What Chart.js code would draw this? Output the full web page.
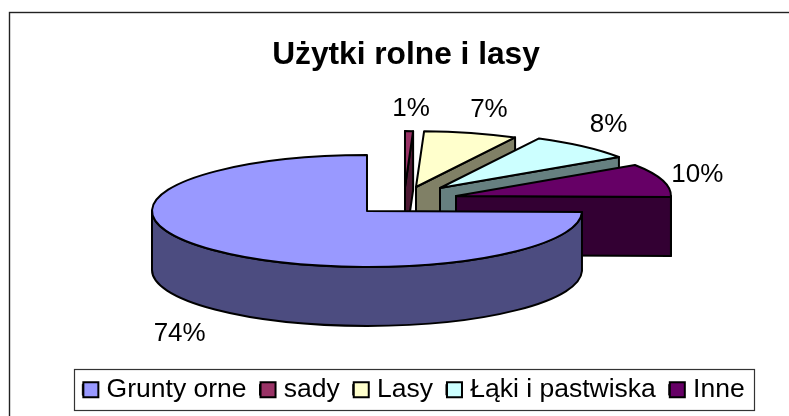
<!DOCTYPE html>
<html>
<head>
<meta charset="utf-8">
<title>Użytki rolne i lasy</title>
<script src="https://cdn.jsdelivr.net/npm/chart.js@4/dist/chart.umd.min.js"></script>
<style>
    html, body { margin: 0; padding: 0; background: #fff; }
    #wrap { position: relative; width: 789px; height: 416px; }
</style>
</head>
<body>
<div id="wrap"><canvas id="chart"></canvas></div>
<script>
const categories = ['Grunty orne', 'sady', 'Lasy', 'Łąki i pastwiska', 'Inne'];
const shares = [74.49, 0.6, 7, 8, 9.6];

const topColors = ['#9999FF', '#993366', '#FFFFCC', '#CCFFFF', '#660066'];
const sideColors = ['#4C4C80', '#4D1933', '#808066', '#668080', '#330033'];

// how far each slice is pulled out of the pie, in screen px
const explodeX = [0, 38, 49, 73, 89];
const explodeY = [0, -24, -24, -23, -15];
// label position relative to the outer rim point of the slice
const labelShiftX = [-34, 2, 18, 25, 35];
const labelShiftY = [25, -22, -23, -22, -5];

const PIE_X = 367;
const PIE_Y = 211;
const SQUASH = 0.26;
const DEPTH = 59;
const OUTLINE = 2;

function drawSlice(ctx, arc, i) {
    const cx = PIE_X + explodeX[i];
    const cy = PIE_Y + explodeY[i];
    const R = arc.outerRadius;
    const r = R * SQUASH;
    const a0 = arc.startAngle;
    const a1 = arc.endAngle;
    const rimX = a => cx + R * Math.cos(a);
    const rimY = a => cy + r * Math.sin(a);

    ctx.strokeStyle = '#000';
    ctx.lineWidth = OUTLINE;
    ctx.lineJoin = 'round';
    ctx.fillStyle = sideColors[i];

    // cut faces, only the ones turned to the viewer
    [[a0, Math.cos(a0) < 0], [a1, Math.cos(a1) > 0]].forEach(([a, visible]) => {
        if (!visible) return;
        ctx.beginPath();
        ctx.moveTo(cx, cy);
        ctx.lineTo(rimX(a), rimY(a));
        ctx.lineTo(rimX(a), rimY(a) + DEPTH);
        ctx.lineTo(cx, cy + DEPTH);
        ctx.closePath();
        ctx.fill();
        ctx.stroke();
    });

    // outer wall on the front half of the rim
    const turns = [-2, 0, 2].map(n => n * Math.PI);
    turns.forEach(t => {
        const from = Math.max(a0, t);
        const to = Math.min(a1, t + Math.PI);
        if (to <= from) return;
        ctx.beginPath();
        ctx.ellipse(cx, cy, R, r, 0, from, to);
        ctx.ellipse(cx, cy + DEPTH, R, r, 0, to, from, true);
        ctx.closePath();
        ctx.fill();
        ctx.stroke();
    });

    // top
    ctx.fillStyle = topColors[i];
    ctx.beginPath();
    ctx.moveTo(cx, cy);
    ctx.ellipse(cx, cy, R, r, 0, a0, a1);
    ctx.closePath();
    ctx.fill();
    ctx.stroke();
}

const pie3d = {
    id: 'pie3d',
    afterLayout(chart) {
        // title sits a bit left of the legend in the original
        chart.titleBlock.left -= 15;
    },
    beforeDraw(chart) {
        const ctx = chart.ctx;
        ctx.save();
        ctx.strokeStyle = '#222';
        ctx.lineWidth = 1.4;
        ctx.strokeRect(9.5, 12.5, chart.width + 20, chart.height + 20);
        ctx.restore();
    },
    beforeDatasetDraw(chart, args) {
        const ctx = chart.ctx;
        const arcs = args.meta.data;
        const midSin = a => Math.sin((a.startAngle + a.endAngle) / 2);
        const order = arcs.map((a, i) => i).sort((p, q) => midSin(arcs[p]) - midSin(arcs[q]));
        ctx.save();
        order.forEach(i => drawSlice(ctx, arcs[i], i));

        // percent labels
        ctx.fillStyle = '#000';
        ctx.font = '26px "Liberation Sans"';
        ctx.textAlign = 'center';
        ctx.textBaseline = 'middle';
        arcs.forEach((arc, i) => {
            const mid = (arc.startAngle + arc.endAngle) / 2;
            const wall = Math.sin(mid) > 0 ? DEPTH : 0;
            const x = PIE_X + explodeX[i] + arc.outerRadius * Math.cos(mid) + labelShiftX[i];
            const y = PIE_Y + explodeY[i] + arc.outerRadius * SQUASH * Math.sin(mid) + wall + labelShiftY[i];
            ctx.fillText(Math.round(shares[i]) + '%', x, y);
        });
        ctx.restore();
        return false;
    },
    afterDraw(chart) {
        // legend frame and swatches, the stock legend has a fixed box to text gap
        const ctx = chart.ctx;
        const boxes = chart.legend.legendHitBoxes;
        const last = boxes[boxes.length - 1];
        const mid = boxes[0].top + boxes[0].height / 2;
        ctx.save();
        ctx.strokeStyle = '#333';
        ctx.lineWidth = 1.2;
        ctx.strokeRect(Math.round(boxes[0].left - 8) + 0.5, Math.round(mid - 21) + 0.5,
            Math.round(last.left + last.width + 10 - boxes[0].left + 8), 41);
        ctx.strokeStyle = '#000';
        ctx.lineWidth = 2;
        boxes.forEach((b, i) => {
            ctx.fillStyle = topColors[i];
            ctx.fillRect(b.left + 1, mid - 7.5, 15, 15);
            ctx.strokeRect(b.left + 1, mid - 7.5, 15, 15);
        });
        ctx.restore();
    }
};

new Chart(document.getElementById('chart'), {
    type: 'pie',
    data: {
        labels: categories,
        datasets: [{
            data: shares,
            backgroundColor: topColors,
            borderColor: '#000',
            borderWidth: 1
        }]
    },
    options: {
        responsive: true,
        maintainAspectRatio: false,
        animation: false,
        radius: 215,
        rotation: 91,
        layout: { padding: { left: 38, right: 0, top: 36, bottom: 3 } },
        plugins: {
            tooltip: { enabled: false },
            title: {
                display: true,
                text: 'Użytki rolne i lasy',
                color: '#000',
                font: { family: '"Liberation Sans"', size: 31.7, weight: 'bold' },
                padding: { top: 0, bottom: 0 }
            },
            legend: {
                position: 'bottom',
                labels: {
                    color: '#000',
                    font: { family: '"Liberation Sans"', size: 26.5 },
                    boxWidth: 11,
                    boxHeight: 11,
                    padding: 13
                }
            }
        }
    },
    plugins: [pie3d]
});
</script>
</body>
</html>
